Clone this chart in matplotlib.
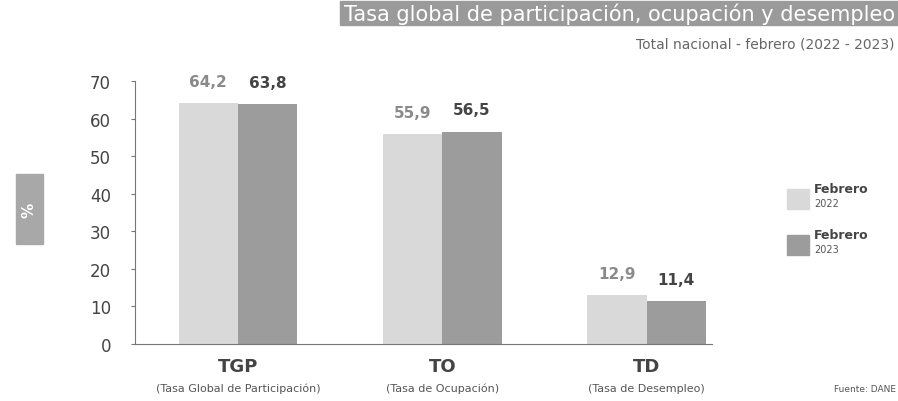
import numpy as np
import matplotlib.pyplot as plt
from matplotlib.patches import Rectangle

# Data
categorias = ['TGP', 'TO', 'TD']
descripciones = ['(Tasa Global de Participación)', '(Tasa de Ocupación)', '(Tasa de Desempleo)']
feb_2022 = [64.2, 55.9, 12.9]
feb_2023 = [63.8, 56.5, 11.4]
yticks = [0, 10, 20, 30, 40, 50, 60, 70]

c22 = '#d9d9d9'
c23 = '#9c9c9c'

fig = plt.figure(figsize=(8.98, 4.02), dpi=100)
ax = fig.add_axes([0.150, 0.142, 0.643, 0.654])

x = np.arange(len(categorias))
w = 0.29
b1 = ax.bar(x - w / 2, feb_2022, w, color=c22)
b2 = ax.bar(x + w / 2, feb_2023, w, color=c23)

# Value labels
for rect, v in zip(b1, feb_2022):
    ax.text(rect.get_x() + rect.get_width() / 2, v + 3.8, f'{v:.1f}'.replace('.', ','),
            ha='center', va='bottom', fontsize=11, color='#8a8a8a', fontweight='bold')
for rect, v in zip(b2, feb_2023):
    ax.text(rect.get_x() + rect.get_width() / 2, v + 3.8, f'{v:.1f}'.replace('.', ','),
            ha='center', va='bottom', fontsize=11, color='#444444', fontweight='bold')

ax.set_xlim(-0.505, 2.32)
ax.set_ylim(0, 70)
ax.set_yticks(yticks)
ax.set_yticklabels([str(t) for t in yticks], fontsize=12, color='#444444')
ax.tick_params(axis='y', length=3, color='#777777', pad=14)
ax.set_xticks([])
for s in ['top', 'right']:
    ax.spines[s].set_visible(False)
ax.spines['left'].set_color('#777777')
ax.spines['bottom'].set_color('#777777')

# Category labels under the axis
for xi, cat, desc in zip(x, categorias, descripciones):
    ax.text(xi, -6.0, cat, ha='center', va='center', fontsize=13, fontweight='bold',
            color='#444444')
    ax.text(xi, -11.8, desc, ha='center', va='center', fontsize=8, color='#555555')

# y label box
fig.patches.append(Rectangle((16 / 898, 1 - 245 / 402), 27 / 898, 70 / 402,
                             transform=fig.transFigure, color='#a8a8a8'))
fig.text(29.5 / 898, 1 - 210 / 402, '%', rotation=90, ha='center', va='center',
         fontsize=11, color='white', fontweight='bold')

# Title box
fig.patches.append(Rectangle((340 / 898, 1 - 26 / 402), 558 / 898, 24 / 402,
                             transform=fig.transFigure, color='#9a9a9a'))
fig.text(895 / 898, 1 - 14 / 402, 'Tasa global de participación, ocupación y desempleo',
         ha='right', va='center', fontsize=15, color='white')
fig.text(894 / 898, 1 - 44 / 402, 'Total nacional - febrero (2022 - 2023)',
         ha='right', va='center', fontsize=10, color='#666666')

# Legend
for yy, col, year in [(190, c22, '2022'), (236, c23, '2023')]:
    fig.patches.append(Rectangle((787 / 898, 1 - (yy + 20) / 402), 22 / 898, 20 / 402,
                                 transform=fig.transFigure, color=col))
    fig.text(814 / 898, 1 - yy / 402, 'Febrero', ha='left', va='center', fontsize=9,
             fontweight='bold', color='#444444')
    fig.text(814 / 898, 1 - (yy + 14) / 402, year, ha='left', va='center', fontsize=7,
             color='#555555')

fig.text(896 / 898, 1 - 390 / 402, 'Fuente: DANE', ha='right', va='center', fontsize=6.5,
         color='#555555')

fig.savefig('out.png', dpi=100, facecolor='white')
